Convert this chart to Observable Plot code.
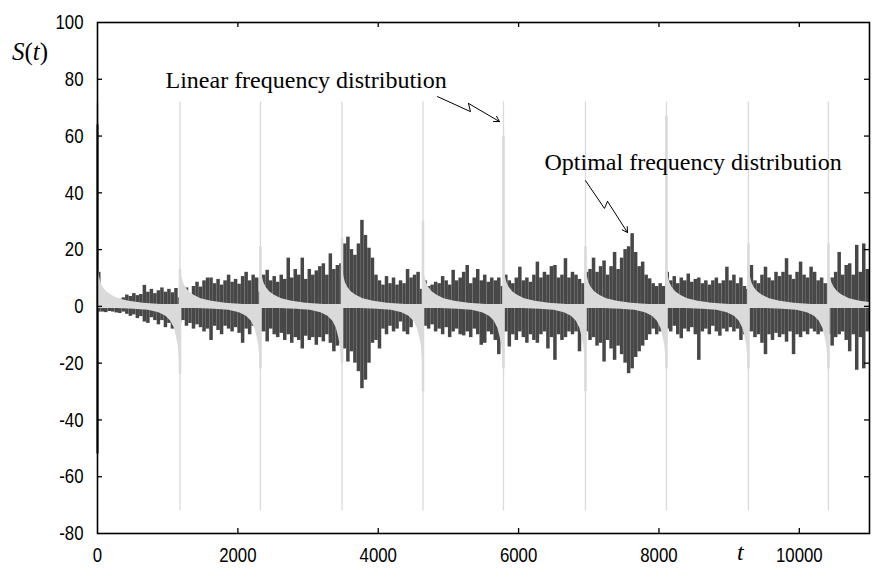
<!DOCTYPE html>
<html><head><meta charset="utf-8">
<script src="https://cdn.jsdelivr.net/npm/d3@7"></script>
<script src="https://cdn.jsdelivr.net/npm/@observablehq/plot@0.6"></script>
<style>body{margin:0;background:#fff}#chart{width:874px;height:579px}</style>
</head><body><div id="chart"></div>
<script>
// ---- data ----
const binWidth = 50; // each dark column covers 50 units of t
// optimal frequency distribution: upper / lower envelope of each column
const darkUpper = [
 12,3,2.5,2,2,2.2,2.5,3,4,3.5,
 4.5,3.8,4.2,7.4,5,6,4.5,5.5,6.5,5,
 6,4.8,6.3,3,5,6.5,4,7,8.5,6.8,
 9,10,10,8,9.5,7.5,9,11,8.5,9.5,
 7.8,10.5,12,9,11,10,5,11,12.7,9,
 10.5,8.5,11,9.5,17,10,13,11,17,9.5,
 13,11,12.5,14,15,11,18.5,13,14.4,15,
 22,24.4,20,18,22,30.3,25,20.5,17,11,
 9,7.5,10.5,8,10,7.5,9,8,13,10,
 11,12,6,9,7,7.5,8.5,8,10.5,9,
 7.5,12.7,9,10,12,14.4,8,10,13,9,
 11,8.5,10,9,10,7,11,9,8,10,
 13.8,9,10,8.5,11,15.6,10,12,11,14,
 14.4,10,11,16.8,10,12,11,9.5,8,12,
 13,17,12,14,16,11,14,19,13,17,
 20,21,25.6,19,14,15.6,11,9.7,8,7,
 8,7,12,9,10.5,8,10,9,11.4,8.5,
 9.5,10,8,9,7.5,9,10,8,9,13.8,
 9,11,8,10,7,6,14.4,9,8,11,
 13.8,10,9,12,10.5,12,16.8,11,9.5,12,
 15.6,11,10,13.8,12,9,10,8,8,10,
 12,19,11,14.4,15,11,21.5,12,22,13
];
const darkLower = [
 -2,-2,-2.2,-1.8,-2,-2.3,-2.5,-2,-2.8,-3.5,
 -3,-4.3,-3.6,-5.5,-6,-4,-5,-6.5,-5,-7.5,
 -6,-8,-7,-6,-5,-7,-6,-8,-6.5,-7.5,
 -9,-8,-12,-7,-8.5,-10,-7,-8,-9,-7.5,
 -9.5,-13,-8,-10,-7,-7,-9,-9,-12.5,-8,
 -10,-11,-9.5,-12,-10,-13,-11,-12,-15,-10.5,
 -12,-11,-13.7,-11,-12.5,-10,-13,-16,-14,-13,
 -15,-19.6,-16,-20,-23,-29,-26,-20,-13,-12,
 -15,-8,-10,-7,-9,-8,-5.5,-9,-10,-7.5,
 -5,-7,-9,-7,-8,-6.5,-9,-8,-10,-7.5,
 -11,-9,-8,-10,-10.4,-9,-11,-8,-10,-13.7,
 -13,-9,-10,-12,-17,-10,-9,-14.3,-10,-12,
 -9,-11,-13,-10,-12,-13,-10,-9,-15,-11,
 -19,-10,-12,-11,-9,-10,-9,-16,-8,-9,
 -12,-11,-14,-13,-19.6,-12,-15,-19,-14,-17,
 -20,-23.7,-22,-18,-16,-14,-12,-10,-8,-10,
 -9,-8,-8,-9,-7,-10,-11.4,-8,-9,-7.5,
 -10,-19,-9,-8,-10,-7,-9,-10.5,-8,-9,
 -7.5,-9,-8,-12,-10,-9,-9,-11,-10,-13,
 -17,-10,-12,-9.5,-11,-10,-12.6,-9,-17,-10,
 -11,-9,-10,-8,-9,-10,-9,-8,-10,-14,
 -11,-10,-9,-12,-16,-10,-22.5,-11,-22,-9
];
// optimal series at t = 0
const darkStart = {t: 0, lo: -52, hi: 64};

// linear frequency distribution
const spikeT = [1175, 2322, 3484, 4638, 5785, 6953, 8107, 9275, 10415];
const spikeTop = [72, 72, 72, 72, 72, 72, 72, 72, 72];
const spikeBottom = [-72, -72, -72, -72, -72, -72, -72, -72, -72];
const spikeInnerTop = [13, 21, 24, 30, 60, 21, 67, 22, 22];
const spikeInnerBottom = [-24, -22, -20, -30, -22, -30, -22, -22, -22];
const lightStart = {t: 0, lo: 64, hi: 72};
const band = 0.7;
const tailOffset = [0, 10, 25, 50, 80, 130, 200, 300, 450, 650, 900];
const tailAfter  = [16, 13, 10, 7.5, 6, 4.5, 3.2, 2, 1.1, 0.4, 0];
const tailBefore = [22, 17, 13, 10, 7, 4.5, 2.8, 1.5, 0.7, 0.3, 0];

// ticks and labels
const xTicks = [0, 2000, 4000, 6000, 8000, 10000];
const yTicks = [-80, -60, -40, -20, 0, 20, 40, 60, 80, 100];
const xInner = [2000, 4000, 6000, 8000, 10000];
const yInner = [-60, -40, -20, 0, 20, 40, 60, 80];
const notes = [
  {t: 969, v: 79.6, text: "Linear frequency distribution"},
  {t: 6369, v: 50.7, text: "Optimal frequency distribution"}
];
const arrowLinear = [{t: 4845, v: 73.9}, {t: 5315, v: 68.6}, {t: 5286, v: 71.5}, {t: 5728, v: 65.1}];
const arrowOptimal = [{t: 6953, v: 44.3}, {t: 7224, v: 34.5}, {t: 7267, v: 37.0}, {t: 7552, v: 26.0}];

// ---- build tables ----
const darkRows = darkUpper.map((hi, i) => ({t1: i * binWidth, t2: (i + 1) * binWidth, hi, lo: darkLower[i]}));
const afterRows = [];
[0, ...spikeT].forEach((s, k) => tailOffset.forEach((o, j) =>
  afterRows.push({period: k, t: s + o, lo: -band, hi: band + tailAfter[j]})));
const beforeRows = [];
spikeT.forEach((s, k) => {
  for (let j = tailOffset.length - 1; j >= 0; j--)
    beforeRows.push({period: k, t: s - tailOffset[j], lo: -band - tailBefore[j], hi: band});
});
const spikes = spikeT.map((t, i) => ({t, top: spikeTop[i], bottom: spikeBottom[i], itop: spikeInnerTop[i], ibot: spikeInnerBottom[i]}));

const W = 874, H = 579, mL = 97, mR = 5, mT = 22, mB = 46;
const pw = W - mL - mR, ph = H - mT - mB;
const DARK = "#474747", LIGHT = "#dadada";
const TICKFONT = "'Liberation Sans', Arial, sans-serif";
const SERIF = "'Liberation Serif', 'Times New Roman', serif";

const chart = Plot.plot({
  width: W, height: H,
  marginLeft: mL, marginRight: mR, marginTop: mT, marginBottom: mB,
  style: {fontFamily: TICKFONT, fontSize: "21px", color: "#000", background: "#fff"},
  x: {domain: [0, 11000], ticks: xTicks, tickSize: 0, tickPadding: 14, tickFormat: d => String(d), label: null},
  y: {domain: [-80, 100], ticks: yTicks, tickSize: 0, tickPadding: 14, tickFormat: d => String(d), label: null},
  marks: [
    Plot.rect(darkRows, {x1: "t1", x2: "t2", y1: "lo", y2: "hi", fill: DARK, clip: true}),
    Plot.ruleX([darkStart], {x: "t", y1: "lo", y2: "hi", stroke: DARK, strokeWidth: 2.5}),
    Plot.areaY(afterRows, {x: "t", y1: "lo", y2: "hi", z: "period", fill: LIGHT, clip: true}),
    Plot.areaY(beforeRows, {x: "t", y1: "lo", y2: "hi", z: "period", fill: LIGHT, clip: true}),
    Plot.ruleX(spikes, {x: "t", y1: "bottom", y2: "top", stroke: LIGHT, strokeWidth: 1.3}),
    Plot.ruleX(spikes, {x: "t", y1: "ibot", y2: "itop", stroke: LIGHT, strokeWidth: 2.6}),
    Plot.ruleX([lightStart], {x: "t", y1: "lo", y2: "hi", stroke: LIGHT, strokeWidth: 2.5}),
    Plot.frame({stroke: "#000", strokeWidth: 1.6}),
    // inward ticks on all four sides
    Plot.ruleX(xInner, {stroke: "#000", strokeWidth: 1.3, insetBottom: ph - 5}),
    Plot.ruleX(xInner, {stroke: "#000", strokeWidth: 1.3, insetTop: ph - 5}),
    Plot.ruleY(yInner, {stroke: "#000", strokeWidth: 1.3, insetRight: pw - 5}),
    Plot.ruleY(yInner, {stroke: "#000", strokeWidth: 1.3, insetLeft: pw - 5}),
    // annotations
    Plot.text(notes, {x: "t", y: "v", text: "text", textAnchor: "start", fontFamily: SERIF, fontSize: 24, fill: "#000"}),
    Plot.line(arrowLinear.slice(0, 3), {x: "t", y: "v", stroke: "#000", strokeWidth: 1}),
    Plot.arrow([{a: arrowLinear[2], b: arrowLinear[3]}], {x1: d => d.a.t, y1: d => d.a.v, x2: d => d.b.t, y2: d => d.b.v, stroke: "#000", strokeWidth: 1, headLength: 9}),
    Plot.line(arrowOptimal.slice(0, 3), {x: "t", y: "v", stroke: "#000", strokeWidth: 1}),
    Plot.arrow([{a: arrowOptimal[2], b: arrowOptimal[3]}], {x1: d => d.a.t, y1: d => d.a.v, x2: d => d.b.t, y2: d => d.b.v, stroke: "#000", strokeWidth: 1, headLength: 9})
  ]
});

const svg = d3.select(chart);
// narrow the tick-label glyphs like the reference's condensed face
svg.selectAll('g[aria-label="x-axis tick label"] text, g[aria-label="y-axis tick label"] text')
  .attr("transform", function () { return (this.getAttribute("transform") || "") + " scale(0.8,1)"; });

// axis titles with mixed italic / upright glyphs
const sLab = svg.append("text").attr("x", 12).attr("y", 60).attr("text-anchor", "start")
  .attr("font-family", SERIF).attr("font-size", 25).attr("fill", "#000");
sLab.append("tspan").attr("font-style", "italic").text("S");
sLab.append("tspan").text("(");
sLab.append("tspan").attr("font-style", "italic").text("t");
sLab.append("tspan").text(")");
svg.append("text").attr("x", 737).attr("y", 560).attr("text-anchor", "start")
  .attr("font-family", SERIF).attr("font-size", 24).attr("font-style", "italic").attr("fill", "#000").text("t");

document.getElementById("chart").appendChild(chart);
</script>
</body></html>
